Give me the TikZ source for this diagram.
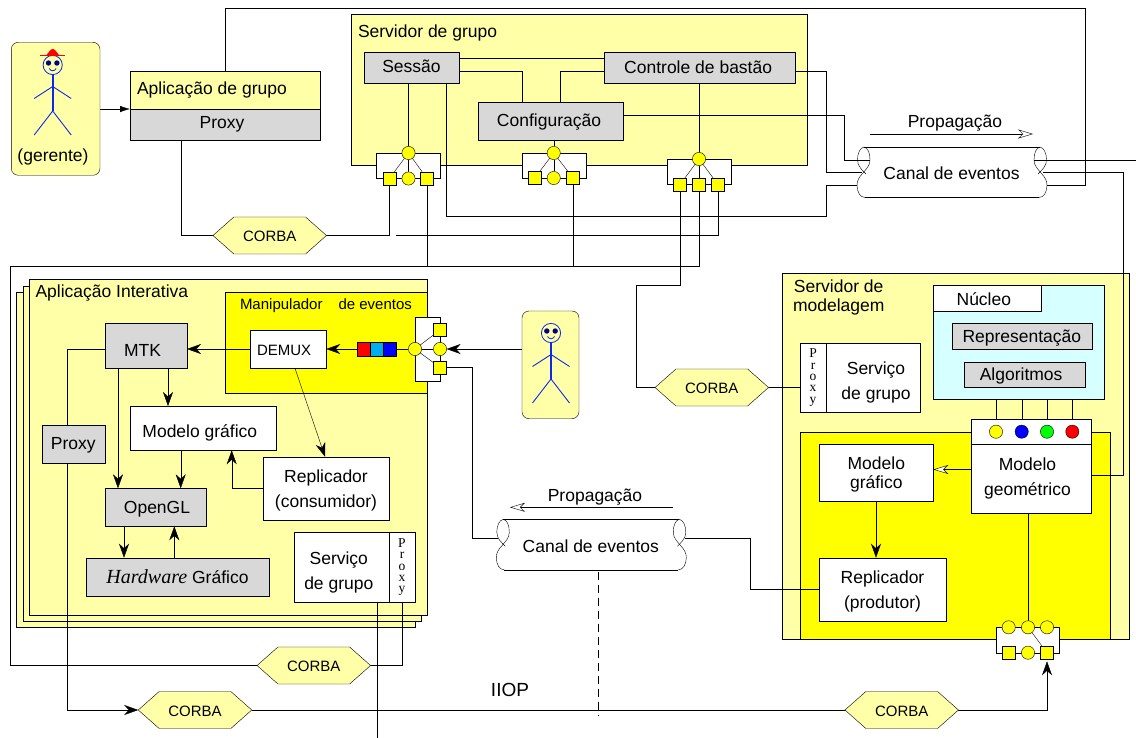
\documentclass[tikz,border=0pt]{standalone}
\usepackage{fontspec}
\setmainfont{Liberation Sans}
\newfontfamily\srf{Liberation Serif}
\usetikzlibrary{arrows.meta,shapes.symbols,calc}
\pgfdeclarelayer{panels}
\pgfdeclarelayer{wires}
\pgfsetlayers{panels,wires,main}
\definecolor{pale}{HTML}{FFFFA8}
\definecolor{grayb}{HTML}{D8D8D8}
\definecolor{palecyan}{HTML}{D6FFFF}
\definecolor{strongy}{HTML}{FFFF00}
\definecolor{stickblue}{HTML}{0A28F0}
\tikzset{
  basebox/.style={draw=black,rectangle,inner sep=0pt,outer sep=0pt,align=center,font=\fontsize{17.5}{25}\selectfont},
  paleb/.style={basebox,fill=pale},
  grayy/.style={basebox,fill=grayb},
  whiteb/.style={basebox,fill=white},
  cyanb/.style={basebox,fill=palecyan},
  yelb/.style={basebox,fill=strongy},
  stackb/.style={basebox,fill=pale},
  lbl/.style={inner sep=0pt,outer sep=0pt,font=\fontsize{17.5}{19}\selectfont,align=center},
  sq/.style={rectangle,draw=black,fill=strongy,minimum size=13.2pt,inner sep=0pt,outer sep=0pt},
  cir/.style={circle,draw=black,fill=strongy,minimum size=13.2pt,inner sep=0pt,outer sep=0pt},
  hexa/.style={signal,signal to=west and east,signal pointer angle=83,draw=black,fill=pale,inner sep=0pt,outer sep=0pt,
     minimum width=113.5pt,minimum height=37pt,font=\fontsize{15}{18}\selectfont},
  person/.style={basebox,fill=pale,rounded corners=7pt},
  stackpx/.style={basebox,fill=white,font=\srf\fontsize{13.5}{11.3}\selectfont},
  sharp/.style={-{Stealth[length=14pt,width=10pt,inset=4.5pt]}},
  tri/.style={-{Latex[length=10pt,width=6.5pt]}},
  openh/.style={-{Stealth[open,fill=white,length=15pt,width=9pt,inset=4.5pt]}},
}
\newcommand\bx[7]{\pgfmathsetmacro\wA{#5-#3}\pgfmathsetmacro\hA{#6-#4}%
  \node[#1,minimum width=\wA pt,minimum height=\hA pt,anchor=north west] (#2) at (#3,#4) {#7};}
\newcommand\dn[2]{\raisebox{-#1pt}[\height][\depth]{#2}}
\newcommand\tb[1]{\begin{tabular}{@{}c@{}}#1\end{tabular}}
\newcommand\canal[4]{%
  \begin{scope}[shift={(#2,#3)}]
    \fill[white] (0,0) -- (176,0) .. controls (172,1) and (170,6) .. (170,13) .. controls (170,19) and (174,22) .. (177,26)
      .. controls (181,30) and (183,34) .. (183,38) .. controls (183,45) and (180,50.5) .. (175,50.5) -- (1,50.5)
      .. controls (-4,50.5) and (-7,45) .. (-7,38) .. controls (-7,34) and (-5,30) .. (-1,26)
      .. controls (2,22) and (6,19) .. (6,13) .. controls (6,6) and (4,1) .. (0,0);
    \draw (0,0) -- (176,0);
    \draw (1,50.5) -- (175,50.5);
    \draw (0,0) .. controls (4,1) and (6,6) .. (6,13) .. controls (6,19) and (2,22) .. (-1,26)
      .. controls (-5,30) and (-7,34) .. (-7,38) .. controls (-7,45) and (-4,50.5) .. (1,50.5);
    \draw (0,0) .. controls (-4,1) and (-6.5,6) .. (-6.5,13) .. controls (-6.5,19) and (-2,23) .. (2,27);
    \draw (176,0) .. controls (172,1) and (170,6) .. (170,13) .. controls (170,19) and (174,22) .. (177,26)
      .. controls (181,30) and (183,34) .. (183,38) .. controls (183,45) and (180,50.5) .. (175,50.5);
    \draw (176,0) .. controls (180,1) and (182.5,6) .. (182.5,13) .. controls (182.5,19) and (178,23) .. (174,27);
    \node[rectangle,inner sep=0pt,outer sep=0pt,minimum width=176pt,minimum height=50.5pt,font=\fontsize{17.5}{21}\selectfont] (#1) at (87.5,#4) {Canal de eventos};
    \coordinate (#1-l1) at (6,13);
    \coordinate (#1-l2) at (-2,25);
    \coordinate (#1-l3) at (-7,38);
    \coordinate (#1-l4) at (-5,19);
    \coordinate (#1-r1) at (170,13);
    \coordinate (#1-r2) at (179,25);
    \coordinate (#1-r3) at (183,38);
    \coordinate (#1-r4) at (182,19);
  \end{scope}}
\newcommand\stick[2]{%
  \begin{scope}[shift={(#1,#2)},draw=stickblue]
    \draw[line width=0.8pt] (0,0) circle (9.6);
    \fill[black!10!blue!60!black] (-4.2,-2) circle (2.7) (4.2,-2) circle (2.7);
    \draw[line width=0.8pt] (-3.5,3.5) .. controls (-2,6.5) and (2,6.5) .. (3.5,3.5);
    \draw[line width=1.6pt] (0,9.6) -- (0,46);
    \draw[line width=0.9pt] (-18.5,33.5) -- (0,21.5) -- (18.5,33.5);
    \draw[line width=0.9pt] (-18.5,70) -- (0,46) -- (18.5,70);
  \end{scope}}
\begin{document}
\begin{tikzpicture}[x=1pt,y=-1pt,line width=1pt]
\useasboundingbox (0,0) rectangle (1136,738);
\begin{pgfonlayer}{panels}
  \bx{paleb}{srvGrupo}{351.5}{14}{807}{165.7}{}
  \bx{stackb}{stackA}{16.3}{292.3}{415}{627.3}{}
  \bx{stackb}{stackB}{22.7}{286}{421}{621}{}
  \bx{stackb}{stackC}{29.3}{279.7}{427.3}{614.7}{}
  \bx{yelb}{manip}{225}{292.3}{427.3}{393.3}{}
  \bx{paleb}{srvMod}{781.7}{273.3}{1129.3}{639.3}{}
  \bx{cyanb}{nucleoBg}{933}{285.7}{1103.7}{399.3}{}
  \bx{yelb}{yelMod}{800.3}{431.7}{1110.3}{639.3}{}
  \canal{canalA}{864}{147}{26}
  \canal{canalB}{503.3}{519.3}{27}
\end{pgfonlayer}
% labels on panels
\node[lbl,anchor=west] (tSrvG) at (358,33) {Servidor de grupo};
\node[lbl,anchor=west] (tApI) at (35.5,293.5) {Aplicação Interativa};
\node[lbl,anchor=west,font=\fontsize{15}{18}\selectfont] (tMan) at (240,306) {Manipulador\hspace{16pt}de eventos};
\node[lbl,anchor=north west] (tSrvM) at (793,280) {Servidor de\\modelagem};
\node[lbl] (tProp1) at (955,123.5) {Propagação};
\node[lbl] (tProp2) at (595,497.5) {Propagação};
\node[lbl,font=\fontsize{19}{22}\selectfont] (tIIOP) at (510,690) {IIOP};
% people
\bx{person}{pGer}{11.3}{42.3}{100}{175.3}{}
\bx{person}{pUser}{522}{311}{579}{418.7}{}
\stick{52.7}{65}
\stick{551}{333}
\fill[red] (46.5,55) -- (50.5,50) .. controls (52,48.5) and (53.5,48.5) .. (55,50) -- (59,55) -- cycle;
\draw[red,line width=0.8pt] (40,55) -- (65,55);
\node[lbl] (tGer) at (53,157) {(gerente)};
% group application
\bx{paleb}{appTop}{130}{71}{320}{109}{}
\bx{grayy}{appProxy}{130}{109}{320}{140.3}{\hspace*{-6pt}Proxy}
\node[lbl,anchor=west] (tApG) at (137,90.5) {Aplicação de grupo};
% group server
\bx{grayy}{sessao}{364}{52}{459}{83.5}{\dn{-1}{Sessão}}
\bx{grayy}{ctrl}{604.3}{52}{795}{83.5}{\dn{-1}{\hspace*{-3pt}Controle de bastão}}
\bx{grayy}{config}{477.7}{102.5}{623.3}{140.5}{\dn{1}{\hspace*{-3pt}Configuração}}
% connector group 1
\bx{whiteb}{gOneBox}{376.3}{153.3}{440}{178.3}{}
\node[cir] (gOneC) at (408.5,153) {};
\node[sq] (gOneA) at (389.3,178.5) {};
\node[cir] (gOneM) at (408.5,178.5) {};
\node[sq] (gOneB) at (427,178.5) {};
\draw (gOneC) -- (gOneA); \draw (gOneC) -- (gOneM); \draw (gOneC) -- (gOneB);
% connector group 2
\bx{whiteb}{gTwoBox}{522}{153}{585.7}{178}{}
\node[cir] (gTwoC) at (553.7,153) {};
\node[sq] (gTwoA) at (534.7,178) {};
\node[cir] (gTwoM) at (553.7,178) {};
\node[sq] (gTwoB) at (573,178) {};
\draw (gTwoC) -- (gTwoA); \draw (gTwoC) -- (gTwoM); \draw (gTwoC) -- (gTwoB);
% connector group 3
\bx{whiteb}{gThrBox}{667.3}{159.3}{730.7}{184}{}
\node[cir] (gThrC) at (699,159) {};
\node[sq] (gThrA) at (680,184.5) {};
\node[sq] (gThrM) at (699,184.5) {};
\node[sq] (gThrB) at (718,184.5) {};
\draw (gThrC) -- (gThrA); \draw (gThrC) -- (gThrM); \draw (gThrC) -- (gThrB);
% interactive app
\bx{whiteb}{demux}{250}{330.3}{326.3}{368.3}{\dn{1}{\hspace*{-8pt}\fontsize{15}{18}\selectfont DEMUX}}
\bx{grayy}{mtk}{105}{323.7}{187}{368.3}{\dn{4}{\hspace*{-7pt}MTK}}
\bx{grayy}{proxyL}{41.7}{425}{105}{463.3}{\dn{1}{Proxy}}
\bx{whiteb}{mgL}{130}{406}{275.7}{450.3}{\dn{5}{\hspace*{-6pt}Modelo gráfico}}
\bx{grayy}{opengl}{105}{488.3}{206}{526.3}{\dn{2}{\hspace*{3pt}OpenGL}}
\bx{whiteb}{repC}{262.7}{456.7}{389.3}{519.7}{\dn{2}{\tb{Replicador\\(consumidor)}}}
\bx{grayy}{hw}{85.7}{557.7}{269.3}{595.7}{{\srf\itshape\fontsize{20}{25}\selectfont Hardware} Gráfico}
\bx{whiteb}{svcL}{294.3}{532.3}{389.3}{602}{\dn{5}{\hspace*{-6pt}\tb{Serviço\\de grupo}}}
\bx{stackpx}{pxL}{389.3}{532.3}{414.7}{602}{P\\r\\o\\x\\y}
% queue
\bx{basebox,fill=red}{qR}{357.3}{342.3}{370.2}{355.7}{}
\bx{basebox,fill=cyan}{qC}{370.2}{342.3}{383.1}{355.7}{}
\bx{basebox,fill=blue}{qB}{383.1}{342.3}{396}{355.7}{}
% right connector of manipulator
\bx{whiteb}{hBox}{414.7}{317.3}{440}{380.7}{}
\node[cir] (hL) at (415,349) {};
\node[cir] (hR) at (440,349) {};
\node[sq] (hU) at (440,330) {};
\node[sq] (hD) at (440,367.5) {};
\draw (hL) -- (hR); \draw (hL) -- (hU); \draw (hL) -- (hD);
% modelling server
\bx{whiteb}{tabNuc}{933}{285.7}{1040.7}{311.3}{\dn{1}{\hspace*{-6pt}Núcleo}}
\bx{grayy}{repres}{952}{323.7}{1091.7}{349.3}{\dn{2}{Representação}}
\bx{grayy}{algo}{964.3}{361.7}{1085}{387.3}{\dn{1}{\hspace*{-7pt}Algoritmos}}
\bx{stackpx}{pxM}{800.3}{342.7}{825.7}{412.3}{P\\r\\o\\x\\y}
\bx{whiteb}{svcM}{825.7}{342.7}{920.3}{412.3}{\dn{5}{\hspace*{6pt}\tb{Serviço\\de grupo}}}
\bx{whiteb}{mgeoT}{970.7}{418.7}{1091.3}{443.7}{}
\bx{whiteb}{mgeo}{970.7}{443.7}{1091.3}{513.3}{\dn{-1}{\hspace*{-7pt}\tb{Modelo\\geométrico}}}
\node[cir] (kY) at (996,431.7) {};
\node[cir,fill=blue] (kB) at (1021.7,431.7) {};
\node[cir,fill=green] (kG) at (1047,431.7) {};
\node[cir,fill=red] (kR) at (1072.3,431.7) {};
\bx{whiteb}{mgR}{819.3}{443.7}{933.3}{501}{\dn{3}{\fontsize{17.5}{19}\selectfont\tb{Modelo\\gráfico}}}
\bx{whiteb}{repP}{819.3}{557.7}{945.7}{621}{\dn{2}{\tb{Replicador\\(produtor)}}}
% bottom-right connector
\bx{whiteb}{bBox}{996.3}{627.3}{1059.3}{652.7}{}
\node[cir] (bT1) at (1008.7,627.3) {};
\node[cir] (bT2) at (1028,627.3) {};
\node[cir] (bT3) at (1047,627.3) {};
\node[sq] (bB1) at (1009,652.7) {};
\node[cir] (bB2) at (1028,652.7) {};
\node[sq] (bB3) at (1047,652.7) {};
\draw (bT2) -- (bB3);
% CORBA
\node[hexa] (cTop) at (269.7,235.5) {\dn{1}{CORBA}};
\node[hexa] (cMid) at (313.8,665.5) {\dn{1}{CORBA}};
\node[hexa] (cLow) at (195,710) {\dn{1}{CORBA}};
\node[hexa] (cRU) at (711.8,387.5) {\dn{1}{CORBA}};
\node[hexa] (cRL) at (901.7,710) {\dn{1}{CORBA}};
% free ends
\coordinate (tp) at (1085,8);
\coordinate (bt) at (826,216.5);
\coordinate (wa) at (826,71);
\coordinate (wb) at (844,115);
\coordinate (wc) at (1122.7,172);
\coordinate (wd) at (471.7,538.3);
\coordinate (we) at (750,589);
\coordinate (out) at (1136,160);
\coordinate (brk) at (396,235);
\coordinate (lft) at (10,266.5);
\coordinate (kink) at (636,285.7);
\coordinate (dsh) at (597.7,716);
\coordinate (bot) at (376.7,738);
\coordinate (pa1) at (870,134);
\coordinate (pb1) at (1033,134);
\coordinate (pa2) at (673,507.3);
\coordinate (pb2) at (510,507.3);
\begin{pgfonlayer}{wires}
  \draw[tri] (pGer.east |- appProxy.north) -- (appTop.south west);
  \draw (225,0 |- appTop.north) |- (tp) |- (canalA-r3);
  \draw (180.7,0 |- appProxy.south) |- (cTop.west);
  \draw (gOneA.south) |- (cTop.east);
  \draw (brk) -| (gThrB.south);
  \draw (gOneB.south) -- (gOneB.south |- lft);
  \draw (gTwoB.south) -- (gTwoB.south |- lft);
  \draw (cMid.west) -| (lft) -| (gThrM.south);
  \draw (gThrA.south) |- (kink) |- (cRU.west);
  \draw (cRU.east) -- (pxM.west |- cRU.east);
  \draw (sessao.east |- 0,58.5) -- (ctrl.west |- 0,58.5);
  \draw (sessao.east |- 0,71) -| (522,0 |- config.north);
  \draw (ctrl.west |- 0,71) -| (560,0 |- config.north);
  \draw (408.5,0 |- sessao.south) -- (gOneC);
  \draw (gTwoC) -- (gTwoC |- config.south);
  \draw (699,0 |- ctrl.south) -- (gThrC);
  \draw (446,0 |- sessao.south) |- (bt) |- (canalA-l3);
  \draw (ctrl.east |- wa) -- (wa) |- (canalA-l2);
  \draw (config.east |- wb) -- (wb) |- (canalA-l1);
  \draw (canalA-r1) -- (out);
  \draw (canalA-r2) -- (wc) |- (mgeo.east |- 0,475.5);
  \draw[openh] (pa1) -- (pb1);
  \draw[openh] (pa2) -- (pb2);
  \draw (hD.east) -| (wd) -- (canalB-l4);
  \draw (canalB-r4) -| (we) -- (we -| repP.west);
  \draw[dash pattern=on 8pt off 5pt] (dsh |- canalB.south) -- (dsh);
  \draw[sharp] (pUser.west |- hR) -- (hR.east);
  \draw (qB.east |- hL) -- (hL);
  \draw[sharp] (qR.west |- hL) -- (demux.east |- hL);
  \draw[sharp] (demux.west |- hL) -- (mtk.east |- hL);
  \draw[sharp] (168,0 |- mtk.south) -- (168,0 |- mgL.north);
  \draw[sharp] (118,0 |- mtk.south) -- (118,0 |- opengl.north);
  \draw[sharp] (180.7,0 |- mgL.south) -- (180.7,0 |- opengl.north);
  \draw[sharp] (295,0 |- demux.south) -- (325,0 |- repC.north);
  \draw[sharp] (repC.west |- opengl.north) -| (231.7,0 |- mgL.south);
  \draw[sharp] (124,0 |- opengl.south) -- (124,0 |- hw.north);
  \draw[sharp] (174.3,0 |- hw.north) -- (174.3,0 |- opengl.south);
  \draw (mtk.west |- hL) -| (67,0 |- proxyL.north);
  \draw[sharp] (67,0 |- proxyL.south) |- (cLow.west);
  \draw (376.7,0 |- svcL.south) -- (bot);
  \draw (pxL.south) |- (cMid.east);
  \draw (cLow.east) -- (cRL.west);
  \draw[sharp,shorten >=2pt] (cRL.east) -| (bB3.south);
  \draw (kY) -- (kY |- nucleoBg.south);
  \draw (kB) -- (kB |- nucleoBg.south);
  \draw (kG) -- (kG |- nucleoBg.south);
  \draw (kR) -- (kR |- nucleoBg.south);
  \draw[openh] (mgeo.west |- 0,469.5) -- (mgR.east |- 0,469.5);
  \draw[sharp] (876,0 |- mgR.south) -- (876,0 |- repP.north);
  \draw (1028,0 |- mgeo.south) -- (bT2);
\end{pgfonlayer}
\end{tikzpicture}
\end{document}
